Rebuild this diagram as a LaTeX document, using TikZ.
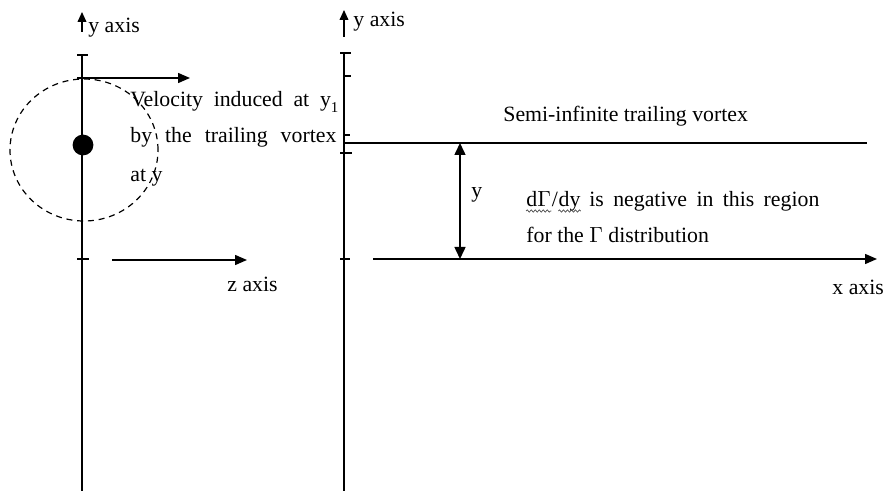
\documentclass[tikz,border=0pt]{standalone}
\usepackage{fontspec}
\setmainfont{Liberation Serif}
\usetikzlibrary{arrows.meta,decorations.pathmorphing}
\begin{document}
\begin{tikzpicture}[x=0.5pt,y=-0.5pt,
  axisline/.style={line width=0.75pt},
  bigarrow/.style={line width=0.75pt,-{Triangle[length=6pt,width=5pt]}},
  dblarrow/.style={line width=0.75pt,{Triangle[length=6pt,width=5.5pt]}-{Triangle[length=6pt,width=5.5pt]}},
  smallarrow/.style={line width=0.65pt,-{Triangle[length=5pt,width=4.4pt]}},
  tickline/.style={line width=0.6pt},
  lbl/.style={inner sep=0pt,anchor=base west,font=\fontsize{10.9pt}{13pt}\selectfont},
  squig/.style={line width=0.35pt,black!70,decorate,decoration={snake,amplitude=0.55pt,segment length=2pt}},
]
\useasboundingbox (0,0) rectangle (885,491);

% ---------- left panel ----------
\coordinate (LTop) at (82,55);
\coordinate (LBot) at (82,491);
\draw[axisline] (LTop) -- (LBot);
\coordinate (LA0) at (82,32);
\coordinate (LA1) at (82,12);
\draw[smallarrow] (LA0) -- (LA1);
\node[lbl] (lyaxis) at (88,33) {y axis};
\draw[tickline] (77,55) -- (88,55);
\draw[tickline] (77,259) -- (89,259);

\draw[line width=0.6pt,dash pattern=on 3pt off 2.4pt] (84,150) ellipse [x radius=37pt, y radius=35.5pt];
\fill (83,145) circle [radius=5.2pt];

\coordinate (V0) at (77,78);
\coordinate (V1) at (190,78);
\draw[bigarrow] (V0) -- (V1);

\node[lbl] (vel1) at (130,107) {\makebox[104pt][s]{Velocity induced at y\raisebox{-2.6pt}{\fontsize{7.5pt}{8pt}\selectfont 1}}};
\node[lbl] (vel2) at (130,143) {\makebox[103pt][s]{by the trailing vortex}};
\node[lbl] (vel3) at (130,182) {at y};

\coordinate (Z0) at (112,260);
\coordinate (Z1) at (247,260);
\draw[bigarrow] (Z0) -- (Z1);
\node[lbl] (zaxis) at (227,292) {z axis};

% ---------- right panel ----------
\coordinate (RTop) at (344,53);
\coordinate (RBot) at (344,491);
\draw[axisline] (RTop) -- (RBot);
\coordinate (RA0) at (344,37);
\coordinate (RA1) at (344,10);
\draw[smallarrow] (RA0) -- (RA1);
\node[lbl] (ryaxis) at (353,27) {y axis};
\draw[tickline] (340,53) -- (351,53);
\draw[tickline] (343,76) -- (351,76);
\draw[tickline] (343,135) -- (350,135);
\draw[tickline] (340,153) -- (352,153);
\draw[tickline] (340,259) -- (350,259);

\coordinate (T0) at (345,143);
\coordinate (T1) at (867,143);
\draw[axisline] (T0) -- (T1);
\node[lbl] (semi) at (503,122) {Semi-infinite trailing vortex};

\coordinate (D0) at (460,143);
\coordinate (D1) at (460,259);
\draw[dblarrow] (D0) -- (D1);
\node[lbl] (ylab) at (471,198) {y};

\coordinate (X0) at (373,259);
\coordinate (X1) at (877,259);
\draw[bigarrow] (X0) -- (X1);
\node[lbl] (xaxis) at (832,295) {x axis};

\node[lbl] (dG) at (526,207) {d\(\Gamma\)};
\node[lbl] (slash) at (dG.base east) {/};
\node[lbl] (dy) at (slash.base east) {dy};
\node[lbl] (neg) at (589,207) {\makebox[115pt][s]{is negative in this region}};
\draw[squig] ([yshift=-2pt]dG.base west) -- ([yshift=-2pt]dG.base east);
\draw[squig] ([yshift=-2pt]dy.base west) -- ([yshift=-2pt]dy.base east);
\node[lbl] (forG) at (526,243) {for the \(\Gamma\) distribution};
\end{tikzpicture}
\end{document}
